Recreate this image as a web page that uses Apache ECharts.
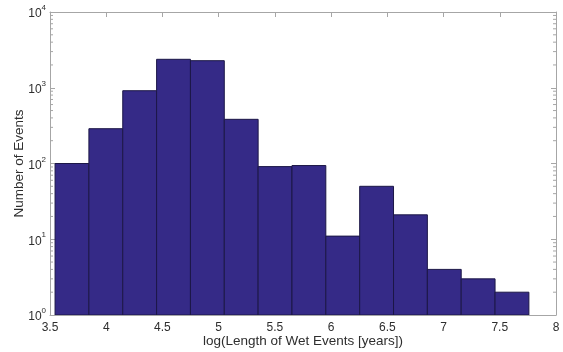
<!DOCTYPE html>
<html>
<head>
<meta charset="utf-8">
<script src="https://cdn.jsdelivr.net/npm/echarts@6/dist/echarts.min.js"></script>
<style>
  html, body { margin: 0; padding: 0; background: #fff; }
  #chart { width: 563px; height: 352px; }
</style>
</head>
<body>
<div id="chart"></div>
<script>
// histogram bin edges (log of event length)
var binEdges = [3.545, 3.846, 4.147, 4.448, 4.749, 5.050, 5.351, 5.652, 5.953, 6.254, 6.555, 6.856, 7.157, 7.458, 7.759];
// event counts per bin
var counts = [100, 288, 914, 2374, 2277, 383, 91, 94, 11, 50, 21, 4, 3, 2];
// minor tick values on the log axis
var minorTicks = [2, 3, 4, 5, 6, 7, 8, 9, 20, 30, 40, 50, 60, 70, 80, 90,
  200, 300, 400, 500, 600, 700, 800, 900, 2000, 3000, 4000, 5000, 6000, 7000, 8000, 9000];

var FONT = 'Liberation Sans, Arial, Helvetica, sans-serif';
var AXIS_GREY = '#a6a6a6';
var TEXT = '#2e2e2e';

var barData = counts.map(function (c, i) {
  return [binEdges[i], binEdges[i + 1], c];
});

function renderBar(params, api) {
  var p0 = api.coord([api.value(0), api.value(2)]);
  var p1 = api.coord([api.value(1), 1]);
  return {
    type: 'rect',
    shape: { x: p0[0], y: p0[1], width: p1[0] - p0[0], height: p1[1] - p0[1] },
    style: { fill: '#352a87', stroke: '#1c1747', lineWidth: 1 }
  };
}

function renderMinor(params, api) {
  var cs = params.coordSys;
  var y = api.coord([3.5, api.value(0)])[1];
  return {
    type: 'group',
    children: [
      { type: 'line', shape: { x1: cs.x, y1: y, x2: cs.x + 3, y2: y }, style: { stroke: AXIS_GREY, lineWidth: 1 } },
      { type: 'line', shape: { x1: cs.x + cs.width - 3, y1: y, x2: cs.x + cs.width, y2: y }, style: { stroke: AXIS_GREY, lineWidth: 1 } }
    ]
  };
}

function powLabel(v) {
  var e = Math.round(Math.log(v) / Math.LN10);
  return '{b|10}{s|' + e + '}';
}

var chart = echarts.init(document.getElementById('chart'), null, { renderer: 'canvas' });

var xCommon = {
  type: 'value', min: 3.5, max: 8, interval: 0.5,
  axisLine: { show: true, onZero: false, lineStyle: { color: AXIS_GREY, width: 1 } },
  axisTick: { show: true, inside: true, length: 5, lineStyle: { color: AXIS_GREY } },
  splitLine: { show: false }
};
var yCommon = {
  type: 'log', logBase: 10, min: 1, max: 10000,
  axisLine: { show: true, lineStyle: { color: AXIS_GREY, width: 1 } },
  axisTick: { show: true, inside: true, length: 5, lineStyle: { color: AXIS_GREY } },
  splitLine: { show: false }
};

var option = {
  animation: false,
  backgroundColor: '#fff',
  grid: { left: 50, top: 12, right: 7, bottom: 37, containLabel: false, outerBoundsMode: 'none' },
  xAxis: [
    Object.assign({}, xCommon, {
      position: 'bottom',
      name: 'log(Length of Wet Events [years])',
      nameLocation: 'middle', nameGap: 19, nameMoveOverlap: false,
      nameTextStyle: { color: TEXT, fontSize: 13.5, fontFamily: FONT },
      axisLabel: { color: TEXT, fontSize: 12, fontFamily: FONT, margin: 7,
        formatter: function (v) { return String(v); } }
    }),
    Object.assign({}, xCommon, { position: 'top', axisLabel: { show: false } })
  ],
  yAxis: [
    Object.assign({}, yCommon, {
      position: 'left',
      name: 'Number of Events',
      nameLocation: 'middle', nameGap: 24, nameRotate: 90, nameMoveOverlap: false,
      nameTextStyle: { color: TEXT, fontSize: 13.5, fontFamily: FONT },
      axisLabel: {
        color: TEXT, margin: 4, formatter: powLabel,
        rich: {
          b: { fontSize: 12, fontFamily: FONT, color: TEXT, lineHeight: 16, verticalAlign: 'bottom' },
          s: { fontSize: 8, fontFamily: FONT, color: TEXT, verticalAlign: 'top', padding: [0, 0, 6, 0] }
        }
      }
    }),
    Object.assign({}, yCommon, { position: 'right', axisLabel: { show: false } })
  ],
  series: [
    {
      type: 'custom', renderItem: renderBar, data: barData,
      encode: { x: [0, 1], y: 2 }, clip: true, silent: true
    },
    {
      type: 'custom', renderItem: renderMinor, data: minorTicks.map(function (v) { return [v]; }),
      encode: { y: 0 }, silent: true, z: 5
    }
  ]
};

chart.setOption(option);
</script>
</body>
</html>
